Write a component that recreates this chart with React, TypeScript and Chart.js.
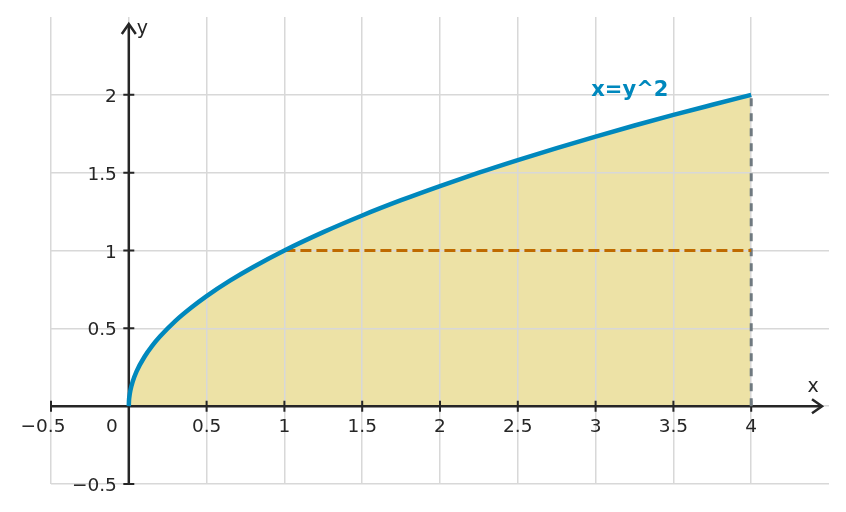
import { useEffect, useRef } from 'react'
import Chart from 'chart.js/auto'

// points read along the curve x = y^2 (y = sqrt(x))
const curveX = [0, 0.001, 0.004, 0.01, 0.025, 0.05, 0.1, 0.15, 0.2, 0.3, 0.4, 0.5, 0.65, 0.8, 1, 1.25, 1.5, 1.75, 2, 2.25, 2.5, 2.75, 3, 3.25, 3.5, 3.75, 4]
const curveY = [0, 0.032, 0.063, 0.1, 0.158, 0.224, 0.316, 0.387, 0.447, 0.548, 0.632, 0.707, 0.806, 0.894, 1, 1.118, 1.225, 1.323, 1.414, 1.5, 1.581, 1.658, 1.732, 1.803, 1.871, 1.936, 2]

// dashed helper lines
const levelX = [1, 4]
const levelY = [1, 1]
const edgeX = [4, 4]
const edgeY = [0, 2]

// axis ticks
const xTicks = [-0.5, 0.5, 1, 1.5, 2, 2.5, 3, 3.5, 4]
const yTicks = [-0.5, 0.5, 1, 1.5, 2]
const originLabel = '0'
const curveLabel = 'x=y^2'
const curveLabelAt = { x: 3.22, y: 2.03 }

const AXIS = '#262626'
const GRID = '#d8d8d8'
const BLUE = '#0088bd'
const FONT = '"DejaVu Sans", sans-serif'

const fmt = (v: number) => (v < 0 ? '\u2212' : '') + String(Math.abs(v))

const axesPlugin = {
  id: 'centerAxes',
  beforeDatasetsDraw(chart: any) {
    const { ctx, scales } = chart
    const xs = scales.x
    const ys = scales.y
    const x0 = xs.getPixelForValue(0)
    const y0 = ys.getPixelForValue(0)
    const left = xs.getPixelForValue(xs.min)
    const right = xs.getPixelForValue(xs.max) - 7
    const bottom = ys.getPixelForValue(ys.min)
    const top = ys.getPixelForValue(ys.max) + 7

    ctx.save()
    ctx.strokeStyle = AXIS
    ctx.lineWidth = 2.5
    ctx.lineCap = 'butt'
    ctx.beginPath()
    ctx.moveTo(left, y0)
    ctx.lineTo(right, y0)
    ctx.moveTo(x0, bottom)
    ctx.lineTo(x0, top)
    ctx.stroke()

    // arrow heads
    ctx.lineJoin = 'miter'
    ctx.beginPath()
    ctx.moveTo(right - 10, y0 - 7)
    ctx.lineTo(right, y0)
    ctx.lineTo(right - 10, y0 + 7)
    ctx.moveTo(x0 - 7, top + 10)
    ctx.lineTo(x0, top)
    ctx.lineTo(x0 + 7, top + 10)
    ctx.stroke()

    // tick marks
    ctx.lineWidth = 2
    ctx.beginPath()
    xTicks.forEach((v) => {
      const p = xs.getPixelForValue(v)
      ctx.moveTo(p, y0 - 5.5)
      ctx.lineTo(p, y0 + 5.5)
    })
    yTicks.forEach((v) => {
      const p = ys.getPixelForValue(v)
      ctx.moveTo(x0 - 5.5, p)
      ctx.lineTo(x0 + 5.5, p)
    })
    ctx.stroke()

    // tick labels
    ctx.fillStyle = AXIS
    ctx.font = `18.5px ${FONT}`
    ctx.textBaseline = 'alphabetic'
    ctx.textAlign = 'center'
    xTicks.forEach((v) => {
      ctx.fillText(fmt(v), xs.getPixelForValue(v) - (v < 0 ? 8 : 0), y0 + 26)
    })
    ctx.textAlign = 'right'
    yTicks.forEach((v) => {
      ctx.fillText(fmt(v), x0 - 12, ys.getPixelForValue(v) + 7)
    })
    ctx.fillText(originLabel, x0 - 11, y0 + 26)

    // axis names
    ctx.font = `19px ${FONT}`
    ctx.textAlign = 'center'
    ctx.fillText('x', right - 9, y0 - 14)
    ctx.textAlign = 'left'
    ctx.fillText('y', x0 + 8, top + 10)
    ctx.restore()
  },
  afterDatasetsDraw(chart: any) {
    const { ctx, scales } = chart
    ctx.save()
    ctx.fillStyle = BLUE
    ctx.font = `bold 21px ${FONT}`
    ctx.textAlign = 'center'
    ctx.textBaseline = 'middle'
    ctx.fillText(curveLabel, scales.x.getPixelForValue(curveLabelAt.x), scales.y.getPixelForValue(curveLabelAt.y))
    ctx.restore()
  },
}

const App = () => {
  const canvasRef = useRef<HTMLCanvasElement>(null)

  useEffect(() => {
    if (!canvasRef.current) return

    const chart = new Chart(canvasRef.current, {
      type: 'line',
      data: {
        datasets: [
          {
            label: curveLabel,
            data: curveX.map((x, i) => ({ x, y: curveY[i] })),
            borderColor: BLUE,
            borderWidth: 4.5,
            backgroundColor: '#ede2a6',
            fill: 'origin',
            cubicInterpolationMode: 'monotone',
            pointRadius: 0,
          },
          {
            label: 'y = 1',
            data: levelX.map((x, i) => ({ x, y: levelY[i] })),
            borderColor: '#bf6a00',
            borderWidth: 3,
            borderDash: [11, 5],
            pointRadius: 0,
            fill: false,
          },
          {
            label: 'x = 4',
            data: edgeX.map((x, i) => ({ x, y: edgeY[i] })),
            borderColor: '#6f7a80',
            borderWidth: 3,
            borderDash: [8, 7],
            pointRadius: 0,
            fill: false,
          },
        ],
      },
      options: {
        animation: false,
        responsive: true,
        maintainAspectRatio: false,
        parsing: false,
        layout: { padding: { left: 51, top: 17, right: 17, bottom: 28 } },
        plugins: {
          legend: { display: false },
          tooltip: { enabled: false },
          filler: { drawTime: 'beforeDraw' },
        },
        scales: {
          x: {
            type: 'linear',
            min: -0.5,
            max: 4.5,
            ticks: { display: false, stepSize: 0.5 },
            border: { display: false },
            grid: {
              drawTicks: false,
              lineWidth: 1.5,
              color: (c: any) => (c.tick && c.tick.value === 4.5 ? 'rgba(0,0,0,0)' : GRID),
            },
          },
          y: {
            type: 'linear',
            min: -0.5,
            max: 2.5,
            ticks: { display: false, stepSize: 0.5 },
            border: { display: false },
            grid: {
              drawTicks: false,
              lineWidth: 1.5,
              color: (c: any) => (c.tick && c.tick.value === 2.5 ? 'rgba(0,0,0,0)' : GRID),
            },
          },
        },
      },
      plugins: [axesPlugin],
    } as any)

    return () => {
      chart.destroy()
    }
  }, [])

  return (
    <div style={{ position: 'fixed', left: 0, top: 0, width: 846, height: 512, background: '#fff' }}>
      <canvas ref={canvasRef}></canvas>
    </div>
  )
}

export default App
